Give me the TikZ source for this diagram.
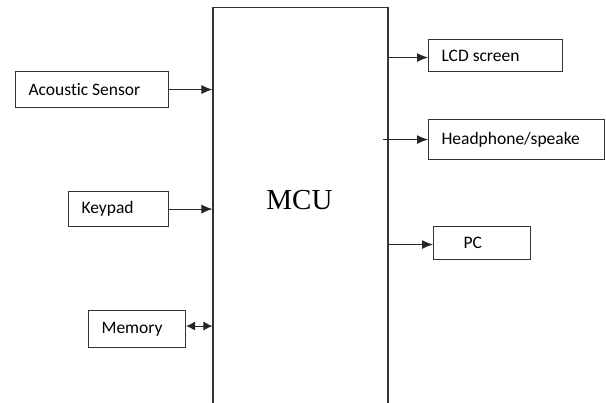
\documentclass[tikz,border=0pt]{standalone}
\usepackage{fontspec}
\setmainfont{Carlito}[Ligatures=NoCommon]
\newfontfamily\mcuserif{Liberation Serif}
\usetikzlibrary{arrows.meta,calc}
\tikzset{
  blk/.style={draw=black!80, line width=1.1pt, inner xsep=13pt, inner ysep=0pt,
    anchor=north west, font=\fontsize{17.5}{20}\selectfont, text=black},
  conn/.style={draw=black!85, line width=0.9pt, -{Latex[length=11pt,width=9pt]}},
  bothconn/.style={draw=black!85, line width=0.9pt, {Latex[length=9pt,width=9pt]}-{Latex[length=9pt,width=9pt]}},
}
\begin{document}
\begin{tikzpicture}[x=1pt,y=-1pt]
\useasboundingbox (0,0) rectangle (606,403);
\fill[white] (0,0) rectangle (606,403);
% MCU block
\node[draw=black!80, line width=1.1pt, minimum width=175pt, minimum height=430pt,
      anchor=north, inner sep=0pt] (MCU) at (300.5,7) {};
\node[font=\mcuserif\fontsize{29}{32}\selectfont] (mcutext) at (299.5,200.5) {MCU};
% left blocks
\node[blk, minimum height=36pt] (AS) at (15,71) {\makebox[127pt][l]{Acoustic Sensor}};
\node[blk, minimum height=35pt] (KP) at (68,191) {\makebox[74pt][l]{Keypad}};
\node[blk, minimum height=37pt] (MEM) at (88,310) {\makebox[71pt][l]{Memory}};
% right blocks
\node[blk, minimum height=32pt] (LCD) at (428,39) {\makebox[108pt][l]{LCD screen}};
\node[blk, minimum height=40pt] (HP) at (428,119) {\makebox[150pt][l]{Headphone/speake}};
\node[blk, minimum height=33pt, inner xsep=30pt] (PC) at (433,226) {\makebox[37pt][l]{PC}};
% connectors
\draw[conn] (AS.east) -- (AS.east -| MCU.west);
\draw[conn] (KP.east) -- (KP.east -| MCU.west);
\draw[bothconn] ($(MEM.east)+(0,-3)$) -- ($(MEM.east -| MCU.west)+(0,-3)$);
\coordinate (lcdstart) at ($(MCU.east |- LCD.west)+(0,2)$);
\draw[conn] (lcdstart) -- (lcdstart -| LCD.west);
\coordinate (hpstart) at ($(MCU.east |- HP.west)+(-6,0)$);
\draw[conn] (hpstart) -- (HP.west);
\coordinate (pcstart) at ($(MCU.east |- PC.west)+(0,1.5)$);
\draw[conn] (pcstart) -- (pcstart -| PC.west);
\end{tikzpicture}
\end{document}
